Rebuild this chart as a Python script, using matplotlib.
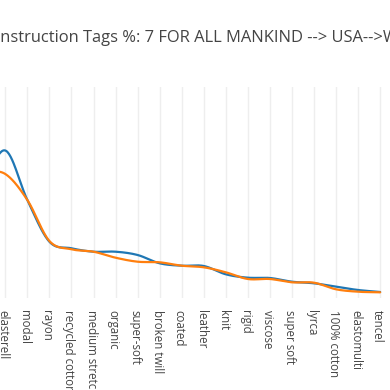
import numpy as np
import matplotlib
matplotlib.use("Agg")
import matplotlib.pyplot as plt
import matplotlib.transforms as mtransforms

plt.rcParams['font.family'] = ['Open Sans', 'DejaVu Sans']

title = "Construction Tags %: 7 FOR ALL MANKIND --> USA-->W"
categories = ["", "elasterell", "modal", "rayon", "recycled cotton", "medium stretch",
              "organic", "super-soft", "broken twill", "coated", "leather", "knit",
              "rigid", "viscose", "super soft", "lyrca", "100% cotton", "elastomulti", "tencel"]
series_a = [11.5, 14.95, 10.0, 5.83, 5.17, 4.83, 4.83, 4.5, 3.67, 3.43, 3.4, 2.57,
            2.23, 2.2, 1.83, 1.67, 1.33, 1.0, 0.8]
series_b = [12.8, 12.6, 10.0, 5.9, 5.07, 4.83, 4.23, 3.83, 3.77, 3.43, 3.27, 2.77,
            2.1, 2.1, 1.77, 1.73, 1.07, 0.83, 0.77]


def spline(xs, ys, n=30):
    xs = np.asarray(xs, float)
    ys = np.asarray(ys, float)
    px = np.concatenate([[2 * xs[0] - xs[1]], xs, [2 * xs[-1] - xs[-2]]])
    py = np.concatenate([[2 * ys[0] - ys[1]], ys, [2 * ys[-1] - ys[-2]]])
    outx, outy = [], []
    t = np.linspace(0, 1, n)
    for i in range(1, len(px) - 2):
        p0x, p1x, p2x, p3x = px[i - 1:i + 3]
        p0y, p1y, p2y, p3y = py[i - 1:i + 3]
        c1x, c1y = p1x + (p2x - p0x) / 6, p1y + (p2y - p0y) / 6
        c2x, c2y = p2x - (p3x - p1x) / 6, p2y - (p3y - p1y) / 6
        bx = (1 - t) ** 3 * p1x + 3 * (1 - t) ** 2 * t * c1x + 3 * (1 - t) * t ** 2 * c2x + t ** 3 * p2x
        by = (1 - t) ** 3 * p1y + 3 * (1 - t) ** 2 * t * c1y + 3 * (1 - t) * t ** 2 * c2y + t ** 3 * p2y
        outx.append(bx)
        outy.append(by)
    return np.concatenate(outx), np.concatenate(outy)


fig = plt.figure(figsize=(3.9, 3.9), dpi=100)
ax = fig.add_axes([0, (390 - 298) / 390, 1, 211 / 390])

x = np.arange(len(categories))
for ys, col in [(series_a, '#1f77b4'), (series_b, '#ff7f0e')]:
    sx, sy = spline(x, ys)
    ax.plot(sx, sy, color=col, lw=1.6, solid_capstyle='round')

ax.set_yticks([])
ax.set_xticks(x)
ax.set_xticklabels(categories, rotation=-90, va='top', ha='center', fontsize=8.3, color='#444444')
ax.set_xlim(1 - 5.3 / 22.05, 1 + 384.7 / 22.05)
ax.set_ylim(0.2, 21.3)
ax.tick_params(axis='x', length=0, pad=8.5)
ax.grid(axis='x', color='#eeeeee', lw=1)
ax.set_axisbelow(True)
for s in ax.spines.values():
    s.set_visible(False)
offset = mtransforms.ScaledTranslation(-2.5 / 100, 0, fig.dpi_scale_trans)
for lbl in ax.get_xticklabels():
    lbl.set_transform(lbl.get_transform() + offset)

fig.canvas.draw()
r = fig.canvas.get_renderer()
tsize = 11.9
tmp = fig.text(0, 0, "Co", fontsize=tsize)
w = tmp.get_window_extent(r).width
tmp.remove()
fig.text(-w / 390 + 0.001, 1 - 38.5 / 390, title, fontsize=tsize, color='#444444', va='center', ha='left')

fig.savefig("out.png", dpi=100)
